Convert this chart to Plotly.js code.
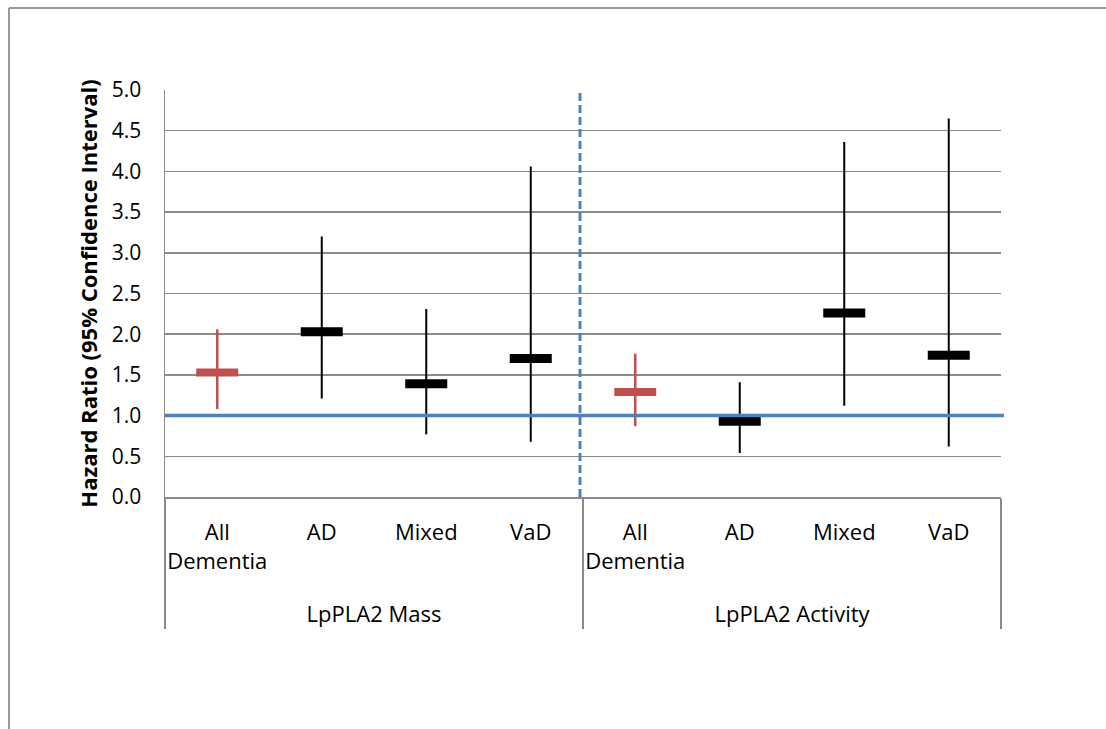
<!DOCTYPE html>
<html>
<head>
<meta charset="utf-8">
<script src="https://cdn.plot.ly/plotly-3.0.1.min.js"></script>
<style>
  html, body { margin: 0; padding: 0; background: #ffffff; }
  #chart { width: 1106px; height: 729px; }
</style>
</head>
<body>
<div id="chart"></div>
<script>
// ---- data ----
const groups = ['LpPLA2 Mass', 'LpPLA2 Mass', 'LpPLA2 Mass', 'LpPLA2 Mass',
                'LpPLA2 Activity', 'LpPLA2 Activity', 'LpPLA2 Activity', 'LpPLA2 Activity'];
const outcomes = ['All<br>Dementia', 'AD', 'Mixed', 'VaD',
                  'All<br>Dementia', 'AD', 'Mixed', 'VaD'];
const hazardRatio = [1.53, 2.03, 1.39, 1.70, 1.29, 0.93, 2.26, 1.74];
const ciLower     = [1.08, 1.21, 0.77, 0.68, 0.87, 0.54, 1.12, 0.62];
const ciUpper     = [2.06, 3.20, 2.31, 4.06, 1.76, 1.41, 4.36, 4.65];
const yTickVals   = [0, 0.5, 1, 1.5, 2, 2.5, 3, 3.5, 4, 4.5, 5];
const referenceHR = 1.0;

// ---- layout constants ----
const W = 1106, H = 729;
const M = { l: 165, r: 105, t: 90, b: 232 };
const plotW = W - M.l - M.r, plotH = H - M.t - M.b;
const px2x = px => (px - M.l) / plotW;
const py2y = py => (H - M.b - py) / plotH;

const gridGray = '#8a8a8a';
const blue = '#4F81BD';
const red = '#C0504D';

// an empty trailing line gives the outcome labels the same depth as in the original
const outcomeLabels = outcomes.map(o => o + '<br><span style="font-size:48px">\u00a0</span>');

function makeTrace(isAll, color, thick, errThick) {
  const y = hazardRatio.map((v, i) => (outcomes[i].startsWith('All') === isAll ? v : null));
  return {
    type: 'scatter',
    mode: 'markers',
    x: [groups, outcomeLabels],
    y: y,
    marker: { symbol: 'line-ew', size: 30, color: color, line: { color: color, width: thick } },
    error_y: {
      type: 'data', symmetric: false,
      array: ciUpper.map((u, i) => u - hazardRatio[i]),
      arrayminus: ciLower.map((l, i) => hazardRatio[i] - l),
      color: color, thickness: errThick, width: 0
    },
    hoverinfo: 'skip',
    showlegend: false,
    cliponaxis: false
  };
}

const traces = [
  makeTrace(true, red, 8, 2.5),
  makeTrace(false, '#000000', 9, 2)
];

const fontFam = '"Open Sans", "Liberation Sans", sans-serif';

const layout = {
  width: W, height: H,
  margin: M,
  paper_bgcolor: '#ffffff',
  plot_bgcolor: '#ffffff',
  showlegend: false,
  font: { family: fontFam, color: '#000000', size: 21 },
  xaxis: {
    type: 'multicategory',
    range: [-0.5, 7.5],
    automargin: false,
    tickangle: 0,
    showgrid: false,
    showline: true, linecolor: gridGray, linewidth: 1.5,
    ticks: '',
    ticklabelstandoff: 15,
    showdividers: true, dividercolor: gridGray, dividerwidth: 1.5,
    tickfont: { family: fontFam, size: 22, color: '#000000' },
    zeroline: false
  },
  yaxis: {
    automargin: false,
    range: [0, 5],
    tickvals: yTickVals,
    tickformat: '.1f',
    showgrid: true, gridcolor: gridGray, gridwidth: 1.5,
    showline: true, linecolor: gridGray, linewidth: 1.5,
    zeroline: false,
    ticks: '',
    ticklabelstandoff: 18,
    tickfont: { family: fontFam, size: 21, color: '#000000' },
    title: {
      text: '<b>Hazard Ratio (95% Confidence Interval)</b>',
      font: { family: fontFam, size: 22, color: '#000000' },
      standoff: 8
    }
  },
  shapes: [
    // reference line at HR = 1
    { type: 'line', xref: 'paper', yref: 'y', x0: 0, x1: px2x(1004), y0: referenceHR, y1: referenceHR,
      line: { color: blue, width: 3.5 }, layer: 'above' },
    // dashed separator between the two groups
    { type: 'line', xref: 'paper', yref: 'paper', x0: px2x(580), x1: px2x(580), y0: 0, y1: 1,
      line: { color: blue, width: 3, dash: '8px,4px' }, layer: 'above' },
    // outer frame (top and left edges)
    { type: 'line', xref: 'paper', yref: 'paper', x0: px2x(9), x1: px2x(1120), y0: py2y(8), y1: py2y(8),
      line: { color: '#9a9a9a', width: 2 } },
    { type: 'line', xref: 'paper', yref: 'paper', x0: px2x(9), x1: px2x(9), y0: py2y(8), y1: py2y(740),
      line: { color: '#9a9a9a', width: 2 } }
  ]
};

Plotly.newPlot('chart', traces, layout, { staticPlot: true, displayModeBar: false });
</script>
</body>
</html>
